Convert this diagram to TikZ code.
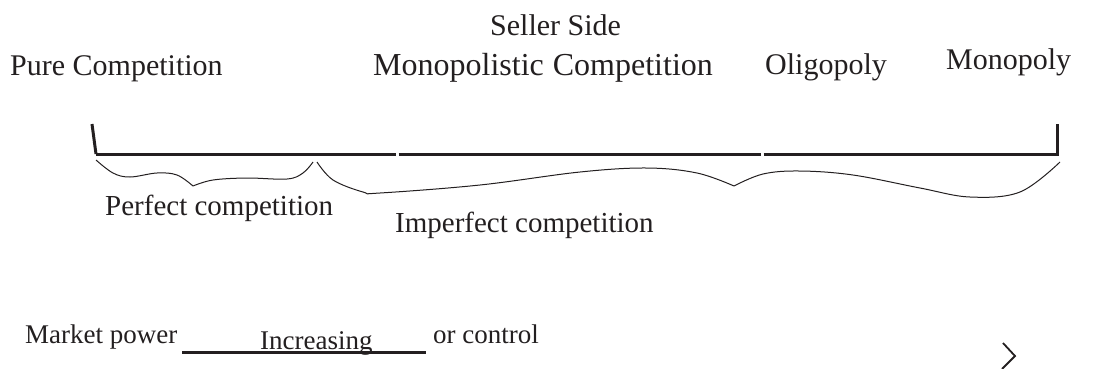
\documentclass[tikz,border=0pt]{standalone}
\usepackage{fontspec}
\setmainfont{Liberation Serif}
\definecolor{ink}{HTML}{231F20}
\begin{document}
\begin{tikzpicture}[x=1pt,y=-1pt,
  lbl/.style={inner sep=0pt,anchor=base west,text=ink},
  topl/.style={lbl,font=\fontsize{30}{34}\selectfont},
  midl/.style={lbl,font=\fontsize{29}{33}\selectfont},
  botl/.style={lbl,font=\fontsize{27}{31}\selectfont},
  axis/.style={draw=ink,line width=3pt},
  brace/.style={draw=ink,line width=1pt}]
\useasboundingbox (0,0) rectangle (1104,368);
% top labels
\node[topl] (seller) at (490,35) {Seller Side};
\node[lbl,font=\fontsize{32}{36}\selectfont] (monoc) at (373,75) {Monopolistic\hspace{9pt}Competition};
\node[topl] (pure) at (10,75) {Pure Competition};
\node[topl] (oligo) at (765,74) {Oligopoly};
\node[topl] (mono) at (946,69) {Monopoly};
% axis
\coordinate (lt) at (92,124);
\coordinate (lb) at (96,154);
\coordinate (rt) at (1057,124);
\coordinate (rb) at (1057,154);
\coordinate (g1a) at (396,154);
\coordinate (g1b) at (398.5,154);
\coordinate (g2a) at (761,154);
\coordinate (g2b) at (763.5,154);
\draw[axis] (lt) -- (lb);
\draw[axis] (lb) -- (g1a);
\draw[axis] (g1b) -- (g2a);
\draw[axis] (g2b) -- (rb) -- (rt);
% perfect brace
\draw[brace] plot[smooth,tension=0.6] coordinates {(96,160) (113,173) (130,177) (157,173) (177,175) (193,186)};
\draw[brace] plot[smooth,tension=0.6] coordinates {(193,186) (213,180) (247,178) (287,179) (303,173) (313,162)};
% imperfect brace
\draw[brace] plot[smooth,tension=0.6] coordinates {(317,162) (333,180) (363,192) (380,193) (480,185) (580,172) (647,168) (697,173) (734,186)};
\draw[brace] plot[smooth,tension=0.6] coordinates {(734,186) (763,174) (800,171) (853,175) (920,188) (970,197) (1020,192) (1060,162)};
% middle labels
\node[midl] (perf) at (105,215) {Perfect competition};
\node[midl] (imperf) at (395,232) {Imperfect competition};
% bottom
\node[botl] (mp) at (25,343) {Market power};
\coordinate (ula) at (182,352);
\coordinate (ulb) at (426,352);
\draw[draw=ink,line width=3pt] (ula) -- (ulb);
\node[botl] (inc) at (260,349) {Increasing};
\node[botl] (ctrl) at (433,343) {or control};
% chevron
\coordinate (c1) at (1003,343);
\coordinate (c2) at (1015,356);
\coordinate (c3) at (1002,369);
\draw[draw=ink,line width=1.8pt] (c1) -- (c2) -- (c3);
\end{tikzpicture}
\end{document}
